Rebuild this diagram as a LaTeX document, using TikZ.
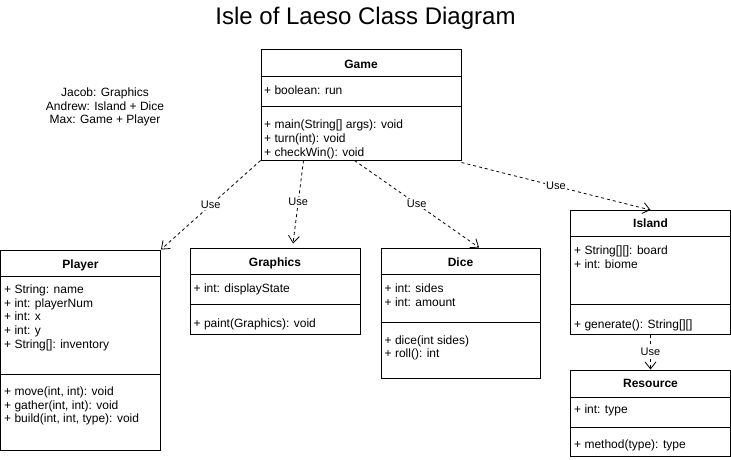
\documentclass[tikz,border=0pt]{standalone}
\usepackage{fontspec}
\setmainfont{Liberation Sans}
\usetikzlibrary{arrows.meta}

\begin{document}
\begin{tikzpicture}[
    x=1pt, y=-1pt,
    every node/.style={font=\fontsize{12}{13.8}\selectfont},
    classbox/.style={draw,line width=1pt,inner sep=0pt},
    classname/.style={anchor=base,font=\fontsize{12}{14}\selectfont\bfseries},
    members/.style={anchor=north west,align=left,inner sep=0pt},
    uses/.style={line width=.8pt,dash pattern=on 3pt off 3pt,
        -{Straight Barb[length=7pt,width=11pt,line width=.8pt]}},
    usetxt/.style={fill=white,inner sep=1pt,font=\fontsize{11}{12}\selectfont}]
    \useasboundingbox (0,0) rectangle (731,460);

    \node[anchor=base,font=\fontsize{24}{28}\selectfont] (title) at (365.5,25)
        {Isle of Laeso Class Diagram};
    \node[align=center] (team) at (105,107)
        {Jacob: Graphics\\Andrew: Island + Dice\\Max: Game + Player};

    % Clases
    \node[classbox,minimum width=200pt,minimum height=110pt] (game) at (361,105) {};
    \draw[line width=1pt] (game.west |- 0,77) -- (game.east |- 0,77)
        (game.west |- 0,106.5) -- (game.east |- 0,106.5);
    \node[classname] at (game.north |- 0,68.3) {Game};
    \node[members] at (264,85.5) {+ boolean: run};
    \node[members] at (264,119.8)
        {+ main(String[] args): void\\+ turn(int): void\\+ checkWin(): void};

    \node[classbox,minimum width=160pt,minimum height=200pt] (player) at (80.5,350) {};
    \draw[line width=1pt] (player.west |- 0,276.5) -- (player.east |- 0,276.5)
        (player.west |- 0,374.5) -- (player.east |- 0,374.5);
    \node[classname] at (player.north |- 0,268.3) {Player};
    \node[members] at (4,284.5) {+ String: name\\+ int: playerNum\\+ int: x\\+ int: y\\+ String[]: inventory};
    \node[members] at (4,386.5) {+ move(int, int): void\\+ gather(int, int): void\\+ build(int, int, type): void};

    \node[classbox,minimum width=170pt,minimum height=86pt] (graphics) at (275,291) {};
    \draw[line width=1pt] (graphics.west |- 0,274.5) -- (graphics.east |- 0,274.5)
        (graphics.west |- 0,304.5) -- (graphics.east |- 0,304.5);
    \node[classname] at (graphics.north |- 0,266) {Graphics};
    \node[members] at (193.5,283.5) {+ int: displayState};
    \node[members] at (193.5,318.2) {+ paint(Graphics): void};

    \node[classbox,minimum width=159pt,minimum height=130pt] (dice) at (460.5,313) {};
    \draw[line width=1pt] (dice.west |- 0,274.5) -- (dice.east |- 0,274.5)
        (dice.west |- 0,322.5) -- (dice.east |- 0,322.5);
    \node[classname] at (dice.north |- 0,266) {Dice};
    \node[members] at (384.5,283.5) {+ int: sides\\+ int: amount};
    \node[members] at (384.5,335.2) {+ dice(int sides)\\+ roll(): int};

    \node[classbox,minimum width=160pt,minimum height=123.5pt] (island) at (650.5,272.25) {};
    \draw[line width=1pt] (island.west |- 0,236) -- (island.east |- 0,236)
        (island.west |- 0,304) -- (island.east |- 0,304);
    \node[classname] at (island.north |- 0,227.6) {Island};
    \node[members] at (574,245.5) {+ String[][]: board\\+ int: biome};
    \node[members] at (574,319.2) {+ generate(): String[][]};

    \node[classbox,minimum width=160pt,minimum height=86.5pt] (resource) at (650.5,413.25) {};
    \draw[line width=1pt] (resource.west |- 0,397) -- (resource.east |- 0,397)
        (resource.west |- 0,427) -- (resource.east |- 0,427);
    \node[classname] at (resource.north |- 0,387.6) {Resource};
    \node[members] at (574,405) {+ int: type};
    \node[members] at (574,439.8) {+ method(type): type};

    % Dependencias
    \draw[uses] (game.south west) -- node[usetxt] {Use} (player.north east);
    \draw[uses] ([xshift=43pt]game.south west) -- node[usetxt] {Use}
        ([xshift=18pt,yshift=4pt]graphics.north);
    \draw[uses] ([xshift=94pt]game.south west) -- node[usetxt] {Use}
        ([xshift=18.5pt]dice.north);
    \draw[uses] ([yshift=-2pt]game.south east) -- node[usetxt] {Use} (island.north);
    \draw[uses] (island.south) -- node[usetxt] {Use} (resource.north);
\end{tikzpicture}
\end{document}
